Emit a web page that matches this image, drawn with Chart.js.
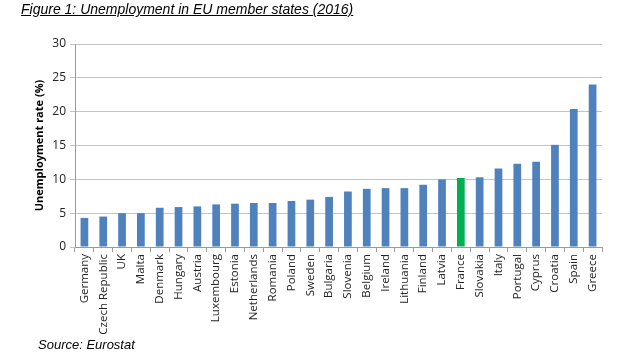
<!DOCTYPE html>
<html>
<head>
<meta charset="utf-8">
<script src="https://cdn.jsdelivr.net/npm/chart.js@4.4.1/dist/chart.umd.min.js"></script>
<style>
  html, body { margin: 0; padding: 0; background: #fff; }
  #wrap { position: relative; width: 629px; height: 363px; overflow: hidden; }
  #c { position: absolute; left: 0; top: 0; }
  #title { position: absolute; left: 21px; top: 1px; font: italic 14px "Liberation Sans", Arial, sans-serif; text-decoration: underline; color: #000; white-space: nowrap; }
  #source { position: absolute; left: 38px; top: 337px; font: italic 13px "Liberation Sans", Arial, sans-serif; color: #000; white-space: nowrap; }
</style>
</head>
<body>
<div id="wrap">
  <canvas id="c" width="629" height="363"></canvas>
  <div id="title">Figure 1: Unemployment in EU member states (2016)</div>
  <div id="source">Source: Eurostat</div>
</div>
<script>
const categories = ["Germany","Czech Republic","UK","Malta","Denmark","Hungary","Austria","Luxembourg","Estonia","Netherlands","Romania","Poland","Sweden","Bulgaria","Slovenia","Belgium","Ireland","Lithuania","Finland","Latvia","France","Slovakia","Italy","Portugal","Cyprus","Croatia","Spain","Greece"];
const unemploymentRate = [4.3,4.5,5.0,5.0,5.8,5.9,6.0,6.3,6.4,6.5,6.5,6.8,7.0,7.4,8.2,8.6,8.7,8.7,9.2,10.0,10.2,10.3,11.6,12.3,12.6,15.1,20.4,24.0];
const highlighted = "France";
const yTicks = [0,5,10,15,20,25,30];

const barColors = categories.map(c => c === highlighted ? "#00B050" : "#4F81BD");

new Chart(document.getElementById("c"), {
  type: "bar",
  data: {
    labels: categories,
    datasets: [{
      data: unemploymentRate,
      backgroundColor: barColors,
      borderWidth: 0,
      barPercentage: 0.41,
      categoryPercentage: 1.0
    }]
  },
  options: {
    responsive: false,
    animation: false,
    devicePixelRatio: 1,
    layout: { padding: { left: 33, right: 27, top: 44, bottom: 0 } },
    plugins: { legend: { display: false }, tooltip: { enabled: false } },
    scales: {
      x: {
        grid: { display: true, drawOnChartArea: false, drawTicks: true, tickLength: 5, color: "#9a9a9a", offset: true },
        border: { display: true, color: "#9a9a9a" },
        ticks: {
          autoSkip: false, maxRotation: 90, minRotation: 90,
          color: "#222", padding: 2,
          font: { family: "'Open Sans', 'Liberation Sans', sans-serif", size: 11.5 }
        },
        afterFit: (s) => { s.height = 116; }
      },
      y: {
        min: 0, max: 30,
        afterBuildTicks: (s) => { s.ticks = yTicks.map(v => ({ value: v })); },
        grid: { color: "#c4c4c4", lineWidth: 1, drawTicks: true, tickLength: 5 },
        border: { display: true, color: "#9a9a9a" },
        ticks: {
          color: "#222", padding: 4,
          font: { family: "'Open Sans', 'Liberation Sans', sans-serif", size: 12 }
        },
        title: {
          display: true, text: "Unemployment rate (%)", color: "#000",
          padding: { top: 0, bottom: 0 },
          font: { family: "'Open Sans', 'Liberation Sans', sans-serif", size: 11, weight: "bold" }
        },
        afterFit: (s) => { s.width = 42; }
      }
    }
  }
});
</script>
</body>
</html>
